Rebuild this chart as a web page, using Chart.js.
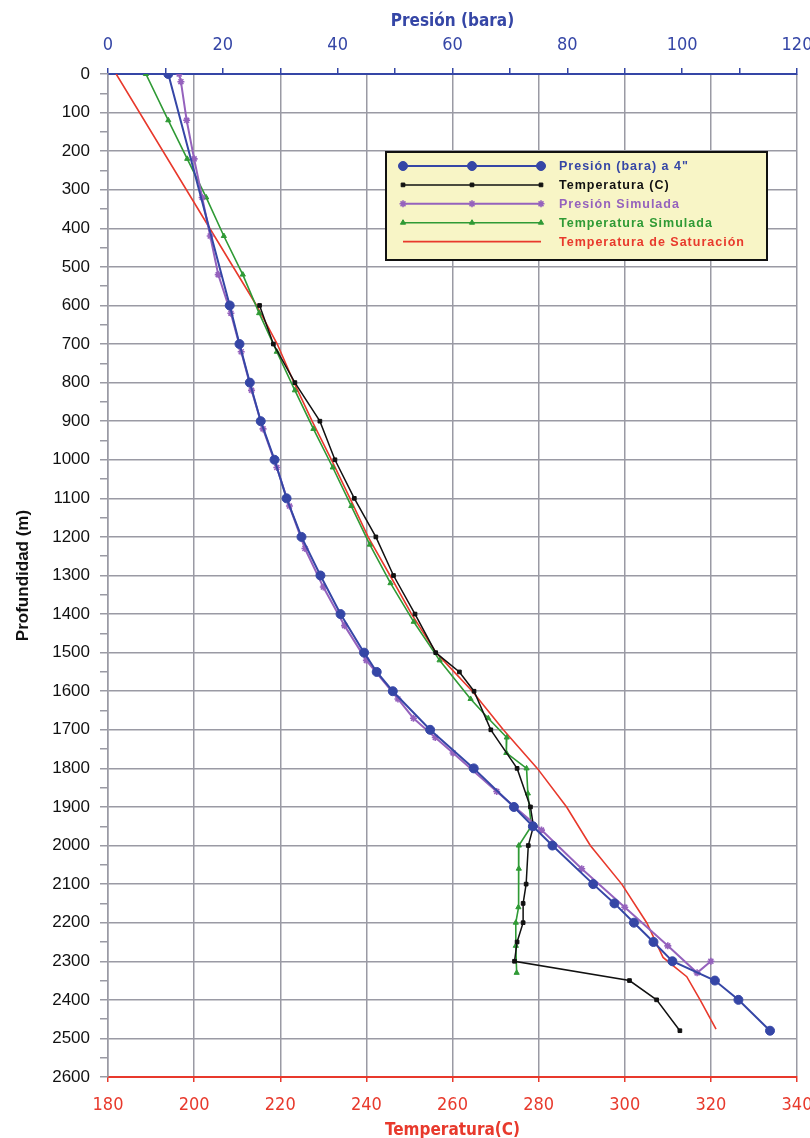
<!DOCTYPE html>
<html>
<head>
<meta charset="utf-8">
<script src="https://cdn.jsdelivr.net/npm/chart.js@4/dist/chart.umd.min.js"></script>
<style>
  html, body { margin: 0; padding: 0; background: #fff; }
  #wrap { width: 810px; height: 1138px; }
</style>
</head>
<body>
<div id="wrap"><canvas id="chart" width="810" height="1138"></canvas></div>
<script>
// --- datos ---
const presDepth = [0, 600, 700, 800, 900, 1000, 1100, 1200, 1300, 1400, 1500, 1550, 1600, 1700, 1800, 1900, 1950, 2000, 2100, 2150, 2200, 2250, 2300, 2350, 2400, 2480];
const presBar   = [10.5, 21.2, 22.9, 24.7, 26.6, 29.0, 31.1, 33.7, 37.0, 40.5, 44.6, 46.8, 49.6, 56.1, 63.7, 70.7, 74.0, 77.4, 84.5, 88.2, 91.6, 95.0, 98.3, 105.7, 109.8, 115.3];

const tempDepth = [600, 700, 800, 900, 1000, 1100, 1200, 1300, 1400, 1500, 1550, 1600, 1700, 1800, 1900, 1950, 2000, 2100, 2150, 2200, 2250, 2300, 2350, 2400, 2480];
const tempC     = [215.2, 218.4, 223.4, 229.2, 232.7, 237.2, 242.2, 246.3, 251.3, 256.1, 261.6, 265.0, 268.9, 275.0, 278.1, 278.8, 277.6, 277.1, 276.4, 276.4, 275.0, 274.4, 301.1, 307.4, 312.8];

const simPresDepth = [0, 20, 120, 220, 320, 420, 520, 620, 720, 820, 920, 1020, 1120, 1230, 1330, 1430, 1520, 1620, 1670, 1720, 1760, 1860, 1960, 2060, 2160, 2260, 2330, 2300];
const simPresBar   = [12.4, 12.7, 13.7, 15.0, 16.4, 17.8, 19.2, 21.4, 23.2, 25.0, 27.0, 29.4, 31.6, 34.3, 37.5, 41.2, 45.0, 50.5, 53.2, 57.0, 60.1, 67.7, 75.5, 82.5, 90.0, 97.5, 102.6, 105.0];

const simTempDepth = [0, 120, 220, 320, 420, 520, 620, 720, 820, 920, 1020, 1120, 1220, 1320, 1420, 1520, 1620, 1670, 1720, 1760, 1800, 1865, 1950, 2000, 2060, 2160, 2200, 2260, 2330];
const simTempC     = [188.8, 194.0, 198.4, 202.8, 206.9, 211.3, 215.1, 219.2, 223.4, 227.7, 232.2, 236.5, 240.8, 245.6, 251.0, 257.0, 264.2, 268.3, 272.6, 272.5, 277.2, 277.5, 278.3, 275.4, 275.4, 275.3, 274.7, 274.7, 274.9];

const satDepth = [0, 600, 700, 800, 900, 1000, 1100, 1200, 1300, 1400, 1500, 1600, 1700, 1800, 1900, 2000, 2100, 2200, 2290, 2305, 2340, 2400, 2476];
const satC     = [181.9, 214.5, 219.3, 223.2, 227.4, 231.9, 236.2, 240.4, 245.5, 250.5, 256.2, 264.6, 271.8, 279.7, 286.5, 292.0, 299.3, 305.1, 308.9, 310.5, 314.4, 317.5, 321.2];

const seriesNames = ['Presión (bara) a 4"', 'Temperatura (C)', 'Presión Simulada', 'Temperatura Simulada', 'Temperatura de Saturación'];

// ejes
const presMin = 0, presMax = 120, presStep = 10;
const tempMin = 180, tempMax = 340, tempStep = 20;
const depthMin = 0, depthMax = 2600, depthStep = 50;

const BLUE = '#3546a6', BLACK = '#111111', PURPLE = '#9562bd', GREEN = '#2f9a35', RED = '#e8392c';
const GRID = '#9a9aa4';
const NARROW = "'Liberation Sans Narrow', 'Arial Narrow', 'DejaVu Sans Condensed', 'Liberation Sans', sans-serif";
const SANS = "'Liberation Sans', Arial, sans-serif";

function pts(xs, ys) { return xs.map((x, i) => ({ x: ys[i], y: x })); }

const datasets = [
  { label: seriesNames[0], data: pts(presDepth, presBar), xAxisID: 'xP',
    borderColor: BLUE, backgroundColor: BLUE, borderWidth: 2,
    pointStyle: 'circle', pointRadius: 4.5, pointBorderWidth: 1, legendText: BLUE },
  { label: seriesNames[1], data: pts(tempDepth, tempC), xAxisID: 'xT',
    borderColor: BLACK, backgroundColor: BLACK, borderWidth: 1.5,
    pointStyle: 'rect', pointRadius: 2.6, pointBorderWidth: 1, legendText: BLACK },
  { label: seriesNames[2], data: pts(simPresDepth, simPresBar), xAxisID: 'xP',
    borderColor: PURPLE, backgroundColor: PURPLE, borderWidth: 2,
    pointStyle: 'star', pointRadius: 3.5, pointBorderWidth: 1.6, legendText: PURPLE },
  { label: seriesNames[3], data: pts(simTempDepth, simTempC), xAxisID: 'xT',
    borderColor: GREEN, backgroundColor: GREEN, borderWidth: 1.6,
    pointStyle: 'triangle', pointRadius: 3, pointBorderWidth: 1, legendText: GREEN },
  { label: seriesNames[4], data: pts(satDepth, satC), xAxisID: 'xT',
    borderColor: RED, backgroundColor: RED, borderWidth: 1.6,
    pointRadius: 0, legendText: RED }
];
datasets.forEach(d => { d.showLine = true; d.tension = 0; d.yAxisID = 'y'; d.pointHoverRadius = d.pointRadius; });

// leyenda dentro del área de trazado
const boxLegend = {
  id: 'boxLegend',
  afterDraw(chart) {
    const ctx = chart.ctx;
    const bx = 386, by = 152, bw = 381, bh = 108;
    ctx.save();
    ctx.fillStyle = '#f8f5c6';
    ctx.fillRect(bx, by, bw, bh);
    ctx.strokeStyle = '#111';
    ctx.lineWidth = 2;
    ctx.strokeRect(bx, by, bw, bh);
    chart.data.datasets.forEach((ds, i) => {
      const y = 166 + i * 18.9;
      ctx.strokeStyle = ds.borderColor;
      ctx.fillStyle = ds.backgroundColor;
      ctx.lineWidth = ds.borderWidth;
      ctx.beginPath();
      ctx.moveTo(403, y);
      ctx.lineTo(541, y);
      ctx.stroke();
      if (ds.pointRadius > 0) {
        [403, 472, 541].forEach(px => {
          ctx.lineWidth = ds.pointBorderWidth;
          Chart.helpers.drawPoint(ctx, { pointStyle: ds.pointStyle, radius: ds.pointRadius, borderWidth: ds.pointBorderWidth, rotation: 0 }, px, y);
        });
      }
      ctx.fillStyle = ds.legendText;
      ctx.font = "bold 12.5px " + SANS;
      ctx.letterSpacing = '1px';
      ctx.textBaseline = 'middle';
      ctx.textAlign = 'left';
      ctx.fillText(ds.label, 559, y + 1);
    });
    ctx.restore();
  }
};

function fixX(h) {
  return s => { s.height = h; s.paddingLeft = 0; s.paddingRight = 0; };
}

new Chart(document.getElementById('chart'), {
  type: 'scatter',
  data: { datasets },
  plugins: [boxLegend],
  options: {
    responsive: false,
    animation: false,
    layout: { padding: { left: 0, right: 13, top: 0, bottom: 0 } },
    plugins: { legend: { display: false }, tooltip: { enabled: false } },
    scales: {
      xP: {
        type: 'linear', position: 'top', min: presMin, max: presMax,
        afterFit: fixX(74),
        ticks: { stepSize: presStep, autoSkip: false, maxRotation: 0, padding: 12, color: BLUE,
          font: { family: NARROW, size: 18 },
          callback: v => (v % 20 === 0 ? v : '') },
        grid: { drawOnChartArea: false, color: BLUE, tickLength: 6, lineWidth: 1.5 },
        border: { color: BLUE, width: 2 },
        title: { display: true, text: 'Presión (bara)', color: BLUE,
          font: { family: NARROW, size: 17, weight: 'bold' }, padding: { top: 11, bottom: 0 } }
      },
      xT: {
        type: 'linear', position: 'bottom', min: tempMin, max: tempMax,
        afterFit: fixX(61),
        ticks: { stepSize: tempStep, autoSkip: false, maxRotation: 0, padding: 13, color: RED,
          font: { family: NARROW, size: 18 } },
        grid: { color: GRID, lineWidth: 1.5, tickColor: RED, tickLength: 5 },
        border: { color: RED, width: 2 },
        title: { display: true, text: 'Temperatura(C)', color: RED,
          font: { family: NARROW, size: 17, weight: 'bold', lineHeight: 1 }, padding: { top: 0, bottom: -1 } }
      },
      y: {
        type: 'linear', position: 'left', reverse: true, min: depthMin, max: depthMax,
        afterFit: s => { s.width = 108; },
        ticks: { stepSize: depthStep, autoSkip: false, padding: 10, color: '#111',
          font: { family: SANS, size: 17 },
          callback: v => (v % 100 === 0 ? v : '') },
        grid: {
          color: c => (c.tick && c.tick.value % 100 === 0 && c.tick.value > depthMin && c.tick.value < depthMax ? GRID : 'rgba(0,0,0,0)'),
          tickColor: GRID, lineWidth: 1.5, tickLength: 8
        },
        border: { color: GRID, width: 1.5 },
        title: { display: true, text: 'Profundidad (m)', color: '#111',
          font: { family: SANS, size: 17, weight: 'bold' }, padding: { top: 13, bottom: 0 } }
      }
    }
  }
});
</script>
</body>
</html>
